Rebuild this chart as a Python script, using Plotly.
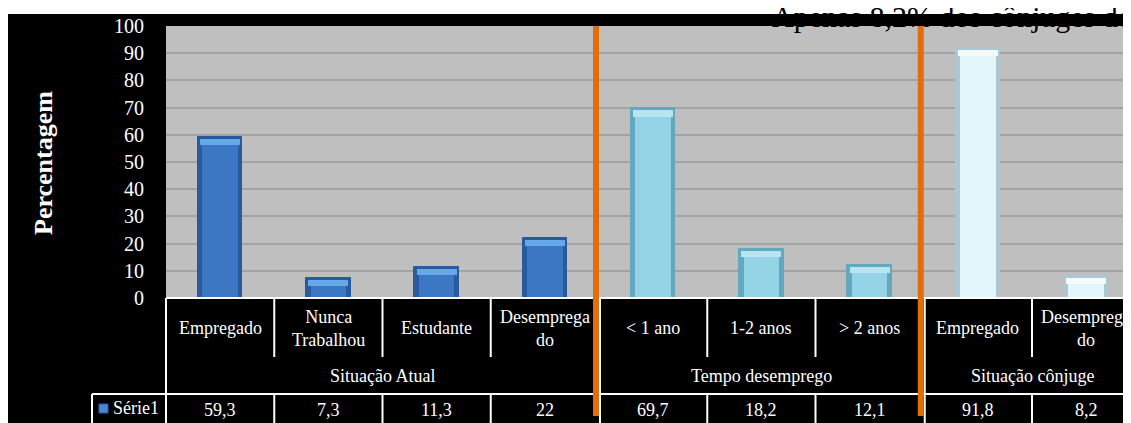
import plotly.graph_objects as go

# ---------------- data ----------------
categories = ["Empregado", "Nunca<br>Trabalhou", "Estudante", "Desemprega<br>do",
              "&lt; 1 ano", "1-2 anos", "&gt; 2 anos", "Empregado", "Desemprega<br>do"]
groups = ["Situação Atual", "Tempo desemprego", "Situação cônjuge"]
group_sizes = [4, 3, 2]
values = [59.3, 7.3, 11.3, 22, 69.7, 18.2, 12.1, 91.8, 8.2]
series_name = "Série1"
y_ticks = list(range(0, 101, 10))
y_title = "Percentagem"
title_text = "Apenas 8,2% dos cônjuges do"

# ---------------- styling ----------------
OFF = 8                        # page body margin
PW, PH = 1131, 423             # page size
W, H = PW - OFF, PH - OFF      # figure size
X0, CW = 166, 108.25           # plot left edge (page px), category width (px)
Y_TOP, Y_BOT = 26, 298         # plot top / bottom (page px)
FONT = "Liberation Serif"

group_body = ["#3C77C4", "#95D3E7", "#E3F6FB"]
group_edge = ["#2A5A9E", "#62A9C0", "#A9C8D1"]
group_cap = ["#6DB1F2", "#C2ECF6", "#FFFFFF"]

gidx = []
for g, n in enumerate(group_sizes):
    gidx += [g] * n

def pxx(p):
    return (p - OFF) / W

def pxy(p):
    return 1 - (p - OFF) / H

def bx(b):  # paper x of category boundary b (e.g. 0.5)
    return pxx(X0 + (b + 0.5) * CW)

n = len(values)
xs = list(range(n))
cap = 3.0

fig = go.Figure()
fig.add_trace(go.Bar(x=xs, y=values, width=0.41,
                     marker=dict(color=[group_edge[g] for g in gidx],
                                 line=dict(color=[group_edge[g] for g in gidx], width=1)),
                     hoverinfo="skip", showlegend=False))
fig.add_trace(go.Bar(x=xs, y=[v - cap for v in values], width=0.33,
                     marker=dict(color=[group_body[g] for g in gidx], line=dict(width=0)),
                     hoverinfo="skip", showlegend=False))
fig.add_trace(go.Bar(x=xs, y=[cap * 0.75] * n, base=[v - cap for v in values], width=0.37,
                     marker=dict(color=[group_cap[g] for g in gidx], line=dict(width=0)),
                     opacity=0.9, hoverinfo="skip", showlegend=False))

# title text on a full-page pixel subplot (so the black band can cover it)
fig.add_trace(go.Scatter(x=[772], y=[19.5], xaxis="x2", yaxis="y2",
                         mode="text", text=[title_text], textposition="middle right",
                         textfont=dict(family=FONT, size=30, color="black"),
                         cliponaxis=False, hoverinfo="skip", showlegend=False))

shapes = []
# white top strip
shapes.append(dict(type="rect", xref="paper", yref="paper", x0=0, x1=1, y0=pxy(14), y1=1,
                   fillcolor="white", line=dict(width=0), layer="below"))
# gray plot area
shapes.append(dict(type="rect", xref="x domain", yref="y domain", x0=0, x1=1, y0=0, y1=1,
                   fillcolor="#BFBFBF", line=dict(width=0), layer="below"))
# black band over title
shapes.append(dict(type="rect", xref="paper", yref="paper", x0=pxx(X0), x1=1, y0=pxy(Y_TOP), y1=pxy(14),
                   fillcolor="black", line=dict(width=0), layer="above"))

WL = dict(color="white", width=2)
def hline(py, x0p, x1p):
    shapes.append(dict(type="line", xref="paper", yref="paper", x0=x0p, x1=x1p,
                       y0=pxy(py), y1=pxy(py), line=WL, layer="above"))
def vline(xp, py0, py1):
    shapes.append(dict(type="line", xref="paper", yref="paper", x0=xp, x1=xp,
                       y0=pxy(py0), y1=pxy(py1), line=WL, layer="above"))

hline(Y_BOT, pxx(X0), 1)
hline(394, pxx(92), 1)
vline(pxx(X0), Y_BOT, PH + 2)
vline(pxx(92), 394, PH + 2)
group_bounds = []
acc = -0.5
for s in group_sizes[:-1]:
    acc += s
    group_bounds.append(acc)
for i in range(n - 1):
    b = i + 0.5
    if b in group_bounds:
        vline(bx(b) + 1 / W, Y_BOT, PH + 2)
    else:
        vline(bx(b), Y_BOT, 357)
        vline(bx(b), 394, PH + 2)

# orange separators
for b in group_bounds:
    xp = bx(b) - 3 / W
    shapes.append(dict(type="line", xref="paper", yref="paper", x0=xp, x1=xp,
                       y0=pxy(Y_TOP), y1=pxy(416), line=dict(color="#E46C0A", width=6), layer="above"))

# legend square
shapes.append(dict(type="rect", xref="paper", yref="paper", x0=pxx(99), x1=pxx(108),
                   y0=pxy(413), y1=pxy(404), fillcolor="#4A88D6",
                   line=dict(color="#2C5FA5", width=1), layer="above"))

TF = dict(family=FONT, size=18, color="white")
ann = []
ann.append(dict(text=f"<b>{y_title}</b>", xref="paper", yref="paper", x=pxx(43), y=pxy(163),
                xanchor="center", yanchor="middle", textangle=-90, showarrow=False,
                font=dict(family=FONT, size=26, color="white")))
for i, c in enumerate(categories):
    ann.append(dict(text=c, xref="x", yref="paper", x=i, y=pxy(328), xanchor="center", yanchor="middle",
                    showarrow=False, font=TF))
    ann.append(dict(text=f"{values[i]:g}".replace(".", ","), xref="x", yref="paper", x=i, y=pxy(410),
                    xanchor="center", yanchor="middle", showarrow=False, font=TF))
start = 0
for g, s in zip(groups, group_sizes):
    ann.append(dict(text=g, xref="x", yref="paper", x=start + (s - 1) / 2, y=pxy(376),
                    xanchor="center", yanchor="middle", showarrow=False, font=TF))
    start += s
ann.append(dict(text=series_name, xref="paper", yref="paper", x=pxx(111), y=pxy(408),
                xanchor="left", yanchor="middle", showarrow=False, font=TF))

fig.update_layout(
    width=W, height=H, margin=dict(l=0, r=0, t=0, b=0, pad=0, autoexpand=False),
    paper_bgcolor="black", plot_bgcolor="rgba(0,0,0,0)",
    barmode="overlay", bargap=0, showlegend=False,
    shapes=shapes, annotations=ann,
    xaxis=dict(domain=[pxx(X0), 1], range=[-0.5, -0.5 + (PW - X0) / CW], visible=False,
               fixedrange=True, automargin=False),
    yaxis=dict(domain=[pxy(Y_BOT), pxy(Y_TOP)], range=[0, 100], tickvals=y_ticks,
               showgrid=True, gridcolor="#A3A3A3", gridwidth=1.5, zeroline=False, showline=False,
               ticks="outside", ticklen=17, tickcolor="black", automargin=False,
               tickfont=dict(family=FONT, size=20, color="white"), fixedrange=True),
    xaxis2=dict(domain=[0, 1], range=[OFF, PW], anchor="y2", visible=False,
                fixedrange=True, automargin=False),
    yaxis2=dict(domain=[0, 1], range=[PH, OFF], anchor="x2", visible=False,
                fixedrange=True, automargin=False),
)

fig.write_html("out.html")
